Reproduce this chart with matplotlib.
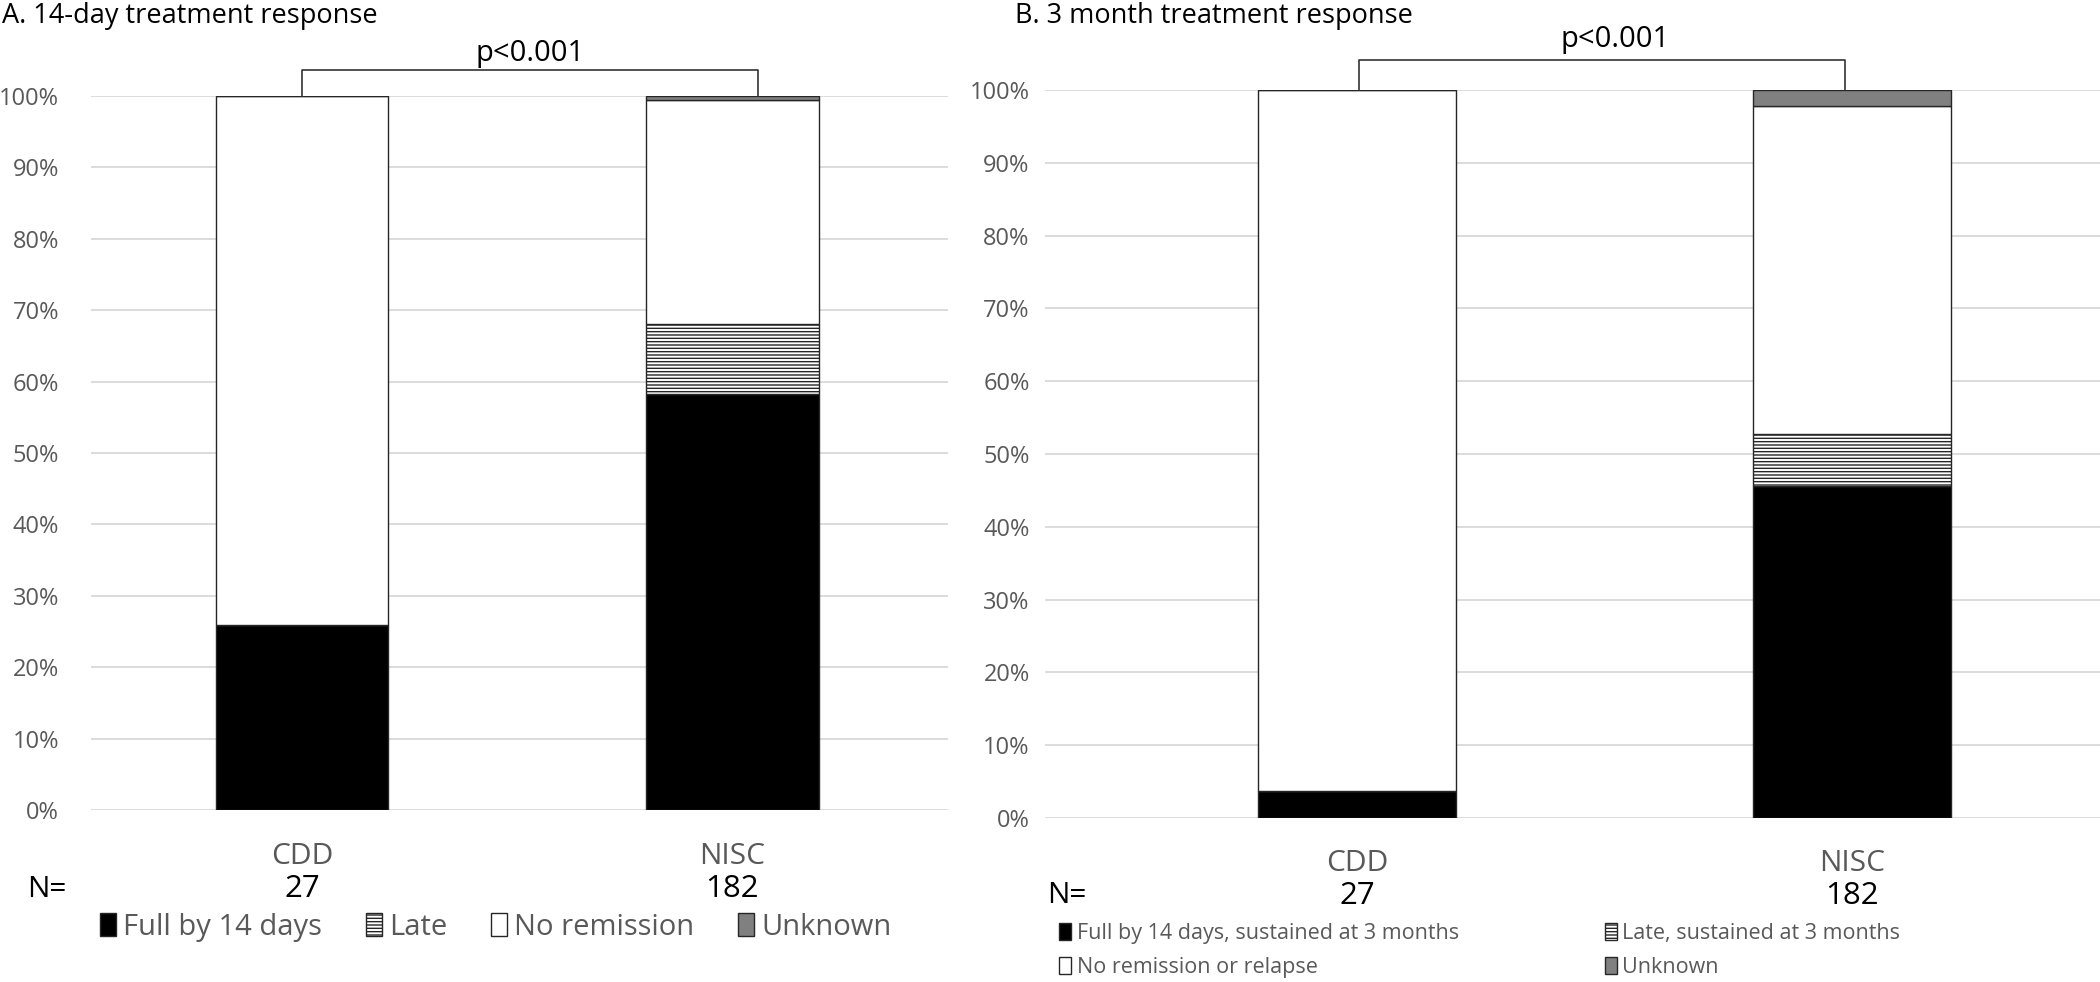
"""
Stacked bars: 14-day and 3-month treatment response, CDD vs NISC.
"""
import matplotlib.pyplot as plt
import matplotlib.transforms as mtransforms
from matplotlib.patches import Patch

plt.rcParams["font.family"] = ["Open Sans", "DejaVu Sans"]
plt.rcParams["hatch.linewidth"] = 1.0

GROUPS = ["CDD", "NISC"]
N_COUNTS = ["27", "182"]

# Panel A: 14-day response (% of patients)
A_LABELS = ["Full by 14 days", "Late", "No remission", "Unknown"]
A_FULL = [25.9, 58.2]
A_LATE = [0.0, 9.9]
A_NONE = [74.1, 31.3]
A_UNKNOWN = [0.0, 0.6]

# Panel B: 3-month response (% of patients)
B_LABELS = ["Full by 14 days, sustained at 3 months", "Late, sustained at 3 months",
            "No remission or relapse", "Unknown"]
B_FULL = [3.7, 45.6]
B_LATE = [0.0, 7.1]
B_NONE = [96.3, 45.1]
B_UNKNOWN = [0.0, 2.2]

FACES = ["black", "white", "white", "#808080"]
HATCHES = [None, "-----", None, None]
EDGE = "#262626"
GREY_TXT = "#595959"


def draw_panel(fig, rect, series, tick_pad, bracket, ptext_xy, lab_y):
    ax = fig.add_axes(rect)
    x = range(len(GROUPS))
    bottom = [0.0] * len(GROUPS)
    for vals, fc, h in zip(series, FACES, HATCHES):
        ax.bar(x, vals, 0.4, bottom=bottom, color=fc, hatch=h,
               edgecolor=EDGE, linewidth=1.0, zorder=3)
        bottom = [b + v for b, v in zip(bottom, vals)]
    ax.set_ylim(0, 100)
    ax.set_yticks(range(0, 101, 10))
    ax.set_yticklabels([f"{v}%" for v in range(0, 101, 10)], color=GREY_TXT, fontsize=17)
    ax.tick_params(axis="y", length=0, pad=tick_pad)
    ax.set_xticks([])
    ax.grid(axis="y", color="#d9d9d9", linewidth=1.3, zorder=0)
    for s in ax.spines.values():
        s.set_visible(False)

    # significance bracket
    x0, x1, ytop = bracket
    ax.plot([x0, x0, x1, x1], [100, ytop, ytop, 100], color="#333333",
            linewidth=1.2, clip_on=False, zorder=4)
    ax.text(ptext_xy[0], ptext_xy[1], "p<0.001", ha="center", va="center", fontsize=21)

    trans = mtransforms.blended_transform_factory(ax.transData, fig.transFigure)
    for i, (g, n) in enumerate(zip(GROUPS, N_COUNTS)):
        ax.text(i, lab_y[0], g, transform=trans, ha="center", va="center",
                fontsize=21.5, color=GREY_TXT)
        ax.text(i, lab_y[1], n, transform=trans, ha="center", va="center",
                fontsize=22.5, color="black")
    return ax


fig = plt.figure(figsize=(21, 9.82), dpi=100)

axA = draw_panel(fig, [0.0433, 0.1752, 0.408, 0.727],
                 [A_FULL, A_LATE, A_NONE, A_UNKNOWN], 23,
                 (0.0, 1.06, 103.6), (0.53, 106.0), (0.1273, 0.0947))
axA.set_xlim(-0.49, 1.5)

axB = draw_panel(fig, [0.4976, 0.167, 0.5024, 0.7414],
                 [B_FULL, B_LATE, B_NONE, B_UNKNOWN], 11,
                 (0.004, 0.985, 104.1), (0.52, 106.9), (0.1202, 0.0876))
axB.set_xlim(-0.63, 1.5)

fig.text(0.001, 0.984, "A. 14-day treatment response", fontsize=19.5, va="center")
fig.text(0.4833, 0.984, "B. 3 month treatment response", fontsize=19.5, va="center")
fig.text(0.013, 0.0947, "N=", fontsize=21.5, va="center")
fig.text(0.4986, 0.0876, "N=", fontsize=21.5, va="center")

handlesA = [Patch(facecolor=fc, hatch=h, edgecolor=EDGE, linewidth=1.0, label=l)
            for fc, h, l in zip(FACES, HATCHES, A_LABELS)]
legA = fig.legend(handles=handlesA, loc="center left", bbox_to_anchor=(0.0475, 0.056),
                  ncol=4, frameon=False, fontsize=21, handlelength=0.55, handleheight=0.8,
                  handletextpad=0.25, columnspacing=1.5, borderpad=0, borderaxespad=0)
for t in legA.get_texts():
    t.set_color(GREY_TXT)

handlesB = [Patch(facecolor=fc, hatch=h, edgecolor=EDGE, linewidth=1.0, label=l)
            for fc, h, l in zip(FACES, HATCHES, B_LABELS)]
orderB = [0, 2, 1, 3]
legB = fig.legend(handles=[handlesB[i] for i in orderB], loc="center left",
                  bbox_to_anchor=(0.5045, 0.032), ncol=2, frameon=False, fontsize=15.5,
                  handlelength=0.55, handleheight=0.8, handletextpad=0.25,
                  columnspacing=6.8, labelspacing=0.6, borderpad=0, borderaxespad=0)
for t in legB.get_texts():
    t.set_color(GREY_TXT)

fig.savefig("out.png", dpi=100)
plt.close(fig)
